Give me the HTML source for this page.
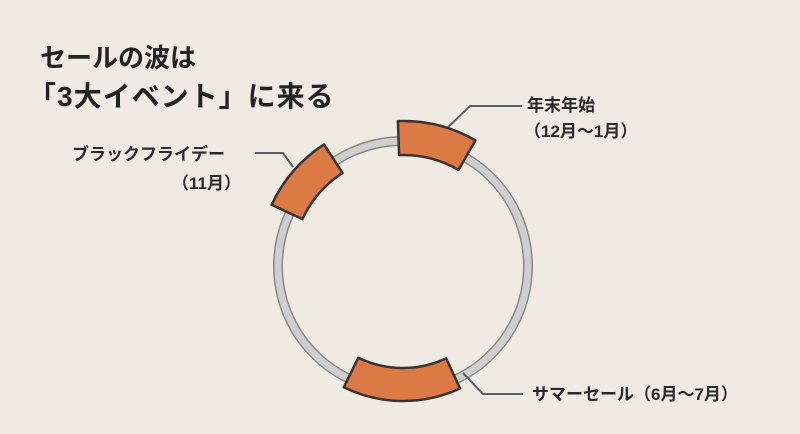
<!DOCTYPE html>
<html><head><meta charset="utf-8"><style>
html,body{margin:0;padding:0;}
body{width:800px;height:434px;background:#efebe2;overflow:hidden;position:relative;font-family:"Liberation Sans","Noto Sans CJK JP",sans-serif;color:#222;}
.t{position:absolute;font-weight:bold;font-size:28px;line-height:1;white-space:nowrap;}
.l{position:absolute;font-size:17px;font-weight:bold;line-height:1;white-space:nowrap;color:#2a2a2a;}
</style></head><body>
<svg width="800" height="434" style="position:absolute;left:0;top:0">
<circle cx="403" cy="266" r="125" fill="none" stroke="#8a8a8a" stroke-width="10"/>
<circle cx="403" cy="266" r="125" fill="none" stroke="#cfcfcf" stroke-width="7"/>
<polyline points="445,130 470,106 522,106" fill="none" stroke="#55606a" stroke-width="2"/>
<polyline points="293,167 283,153 255,153" fill="none" stroke="#55606a" stroke-width="2"/>
<polyline points="463,373 483,394 523,394" fill="none" stroke="#55606a" stroke-width="2"/>
<g id="arcs" fill="#dc7a45" stroke="#3a3330" stroke-width="2.5" stroke-linejoin="round"></g>
</svg>
<script>
function arc(a0,a1,r0,r1){var cx=403,cy=266,d=Math.PI/180;
function p(r,a){return (cx+r*Math.cos(a*d)).toFixed(1)+','+(cy+r*Math.sin(a*d)).toFixed(1);}
return 'M'+p(r1,a0)+' A'+r1+','+r1+' 0 0 1 '+p(r1,a1)+' L'+p(r0,a1)+' A'+r0+','+r0+' 0 0 0 '+p(r0,a0)+' Z';}
var g=document.getElementById('arcs');
[[-155,-123,111,145],[-92,-60,111,145],[65,116,102,135]].forEach(function(x){var e=document.createElementNS('http://www.w3.org/2000/svg','path');e.setAttribute('d',arc(x[0],x[1],x[2],x[3]));g.appendChild(e);});
</script>
<div class="t" style="left:40px;top:45px;font-size:26px;">セールの波は</div>
<div class="t" style="left:28px;top:83px;letter-spacing:1px;">「3大イベント」に来る</div>
<div class="l" style="left:527px;top:97px;">年末年始</div>
<div class="l" style="left:524px;top:123px;">（12月～1月）</div>
<div class="l" style="left:72px;top:146px;">ブラックフライデー</div>
<div class="l" style="left:172px;top:175px;">（11月）</div>
<div class="l" style="left:532px;top:386px;">サマーセール（6月～7月）</div>
</body></html>
